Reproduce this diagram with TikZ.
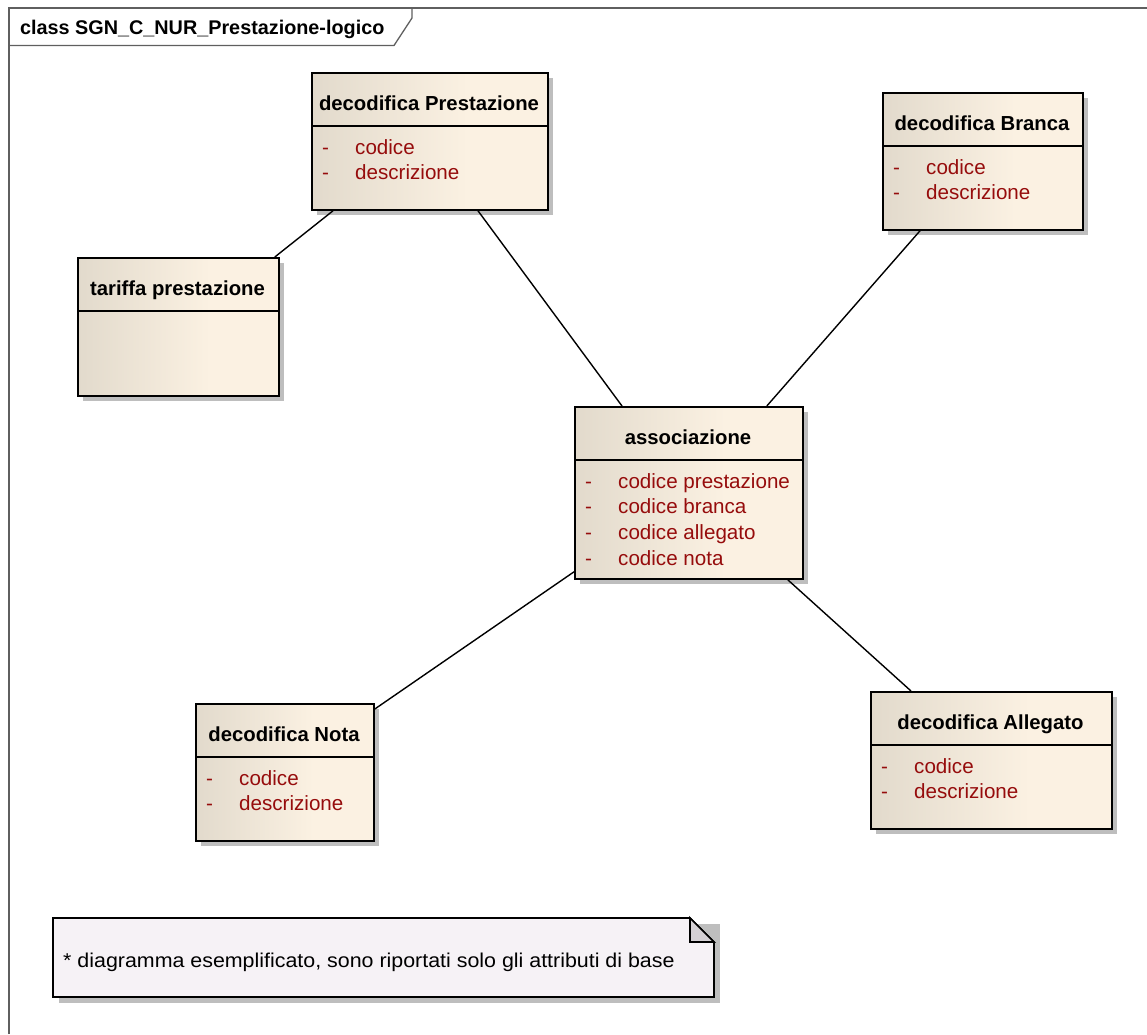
\documentclass[tikz,border=0pt]{standalone}
\usepackage{fontspec}
\setmainfont{Liberation Sans}

\definecolor{clsL}{RGB}{226,218,204}
\definecolor{clsR}{RGB}{251,241,226}
\definecolor{attrred}{RGB}{150,12,12}
\definecolor{notefill}{RGB}{246,242,246}
\definecolor{foldfill}{RGB}{212,208,212}
\definecolor{shadowc}{RGB}{190,190,190}
\definecolor{framec}{RGB}{95,95,95}

\pgfdeclarehorizontalshading{clsshade}{100bp}{color(0bp)=(clsL); color(25bp)=(clsL); color(58bp)=(clsR); color(100bp)=(clsR)}

\tikzset{
  classbox/.style={draw=black, line width=1.8pt, shading=clsshade, rectangle, inner sep=0pt},
  classtitle/.style={inner sep=0pt, anchor=base, font=\bfseries\fontsize{20.3}{24}\selectfont},
  attrtext/.style={inner sep=0pt, anchor=base west, text=attrred, font=\fontsize{20.6}{24}\selectfont},
  divider/.style={draw=black, line width=1.6pt},
  shadowbox/.style={fill=shadowc},
  conn/.style={draw=black, line width=1.4pt},
  frameline/.style={draw=framec, line width=1.3pt},
  notebox/.style={draw=black, line width=1.7pt, fill=notefill},
}

% #1 name, #2 x, #3 y, #4 width, #5 height, #6 title, #7 attribute list
\newcommand\umlclass[7]{%
  \fill[shadowbox] (#2+6,#3+6) rectangle (#2+#4+6,#3+#5+6);
  \node[classbox, minimum width=#4pt, minimum height=#5pt, anchor=north west] (#1) at (#2,#3) {};
  \node[classtitle] (#1-title) at (#2+#4/2,#3+38) {#6};
  \draw[divider] (#2,#3+54) -- (#2+#4,#3+54);
  \foreach \a [count=\i] in {#7} {%
    \node[attrtext] (#1-d\i) at (#2+11,#3+54+28+\i*25.8-25.8) {-};
    \node[attrtext] (#1-a\i) at (#2+44,#3+54+28+\i*25.8-25.8) {\a};
  }%
}

\begin{document}
\begin{tikzpicture}[x=1pt, y=-1pt]
\useasboundingbox (0,0) rectangle (1147,1034);

% diagram frame with its name tab
\draw[frameline] (9,1034) -- (9,8) -- (1147,8);
\draw[frameline] (9,45.5) -- (394,45.5) -- (412,18) -- (412,8);
\node[inner sep=0pt, anchor=base west, font=\bfseries\fontsize{19.8}{24}\selectfont] (frametitle) at (20,34) {class SGN\_C\_NUR\_Prestazione-logico};

% classes
\umlclass{prest}{311}{72}{236}{137}{decodifica Prestazione}{codice,descrizione}
\umlclass{tariffa}{77}{257}{201}{138}{tariffa prestazione}{}
\umlclass{branca}{882}{92}{200}{137}{decodifica Branca}{codice,descrizione}
\umlclass{assoc}{574}{406}{228}{172}{associazione}{codice prestazione,codice branca,codice allegato,codice nota}
\umlclass{nota}{195}{703}{178}{137}{decodifica Nota}{codice,descrizione}
\umlclass{allegato}{870}{691}{241}{137}{decodifica Allegato}{codice,descrizione}

% associations
\draw[conn] ([xshift=-5pt]tariffa.north east) -- ([xshift=22pt]prest.south west);
\draw[conn] ([xshift=167pt]prest.south west) -- ([xshift=48pt]assoc.north west);
\draw[conn] ([xshift=38pt]branca.south west) -- ([xshift=-37pt]assoc.north east);
\draw[conn] ([yshift=8pt]assoc.south west) -- ([yshift=-6pt]nota.north east);
\draw[conn] ([xshift=-16pt]assoc.south east) -- ([xshift=41pt]allegato.north west);

% note with folded corner
\fill[shadowbox] (59,924) rectangle (720,1003);
\draw[notebox] (53,918) -- (690,918) -- (714,942) -- (714,997) -- (53,997) -- cycle;
\draw[notebox, fill=foldfill] (690,918) -- (690,942) -- (714,942) -- cycle;
\node[inner sep=0pt, anchor=base west] (notetext) at (63,967)
  {\scalebox{1.07}[1]{\fontsize{20}{24}\selectfont * diagramma esemplificato, sono riportati solo gli attributi di base}};
\end{tikzpicture}
\end{document}
